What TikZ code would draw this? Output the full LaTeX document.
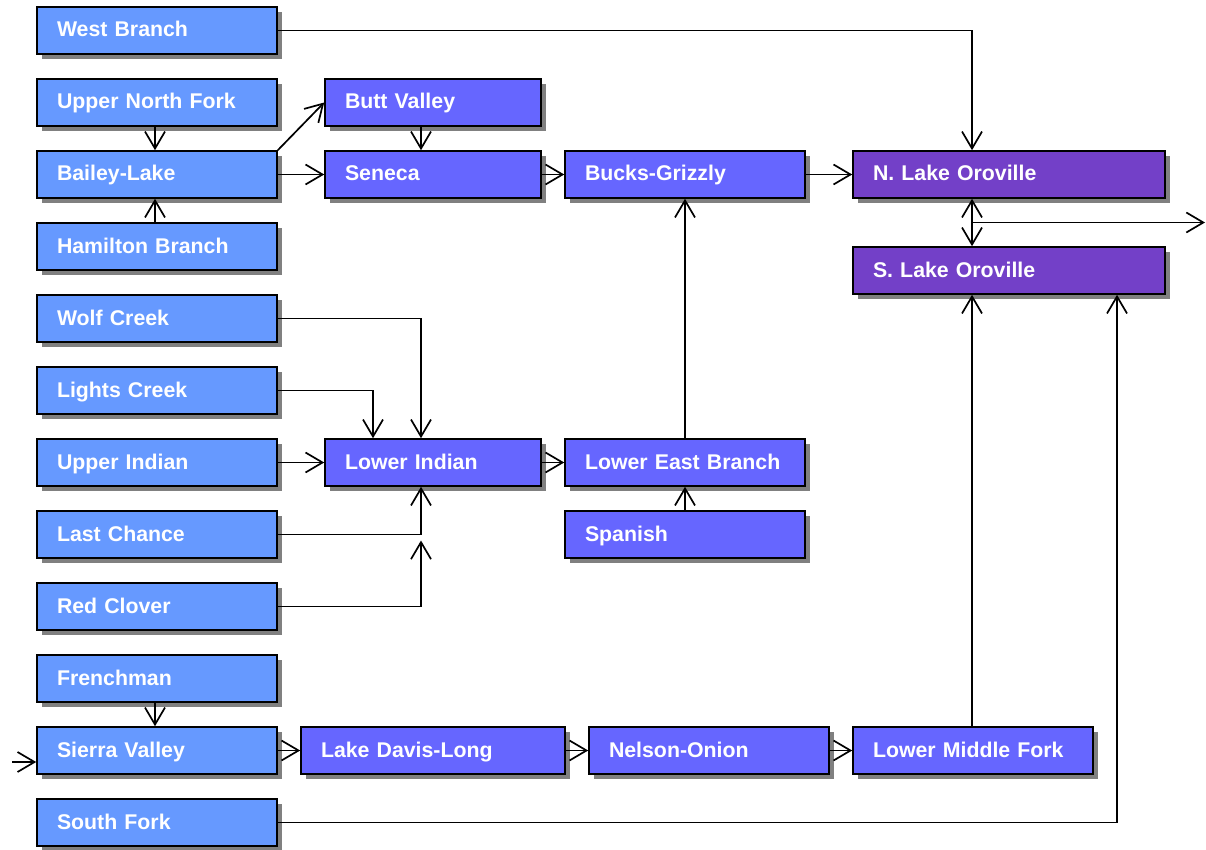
\documentclass[tikz,border=0pt]{standalone}
\usepackage{fontspec}
\setmainfont{Liberation Sans}
\usetikzlibrary{arrows.meta,shadows}

\definecolor{riverblue}{HTML}{6699FF}
\definecolor{reachblue}{HTML}{6666FF}
\definecolor{lakepurple}{HTML}{7340C8}

\tikzset{
  reach/.style={draw=black, line width=1.6pt, text=white,
    font=\bfseries\fontsize{21.3}{25}\selectfont, align=left,
    inner xsep=20pt, inner ysep=0pt, minimum height=47pt, text width=200pt,
    text height=17pt, text depth=4pt,
    drop shadow={shadow xshift=5pt, shadow yshift=-5pt, fill=black!50, opacity=1}},
  upper/.style={reach, fill=riverblue},
  lower/.style={reach, fill=reachblue},
  lake/.style={reach, fill=lakepurple, text width=272pt},
  flow/.style={->, line width=1.7pt},
}

\begin{document}
\begin{tikzpicture}[x=1pt, y=-1pt, >={Straight Barb[length=17pt,width=20pt]}]

	\useasboundingbox (0,0) rectangle (1206,850);

	% upstream reaches
	\node[upper] (WB) at (157,30.5) {West Branch};
	\node[upper] (UNF) at (157,102.5) {Upper North Fork};
	\node[upper] (BL) at (157,174.5) {Bailey-Lake};
	\node[upper] (HB) at (157,246.5) {Hamilton Branch};
	\node[upper] (WC) at (157,318.5) {Wolf Creek};
	\node[upper] (LC) at (157,390.5) {Lights Creek};
	\node[upper] (UI) at (157,462.5) {Upper Indian};
	\node[upper] (LCh) at (157,534.5) {Last Chance};
	\node[upper] (RC) at (157,606.5) {Red Clover};
	\node[upper] (FR) at (157,678.5) {Frenchman};
	\node[upper] (SV) at (157,750.5) {Sierra Valley};
	\node[upper] (SF) at (157,822.5) {South Fork};

	% middle reaches
	\node[lower, text width=176pt] (BV) at (433,102.5) {Butt Valley};
	\node[lower, text width=176pt] (SE) at (433,174.5) {Seneca};
	\node[lower, text width=176pt] (LI) at (433,462.5) {Lower Indian};
	\node[lower, text width=224pt] (LDL) at (433,750.5) {Lake Davis-Long};
	\node[lower] (BG) at (685,174.5) {Bucks-Grizzly};
	\node[lower] (LEB) at (685,462.5) {Lower East Branch};
	\node[lower] (SP) at (685,534.5) {Spanish};
	\node[lower] (NO) at (709,750.5) {Nelson-Onion};
	\node[lower] (LMF) at (973,750.5) {Lower Middle Fork};

	% lake
	\node[lake] (NLO) at (1009,174.5) {N. Lake Oroville};
	\node[lake] (SLO) at (1009,270.5) {S. Lake Oroville};

	\coordinate (J1) at (421,534.5);
	\coordinate (J2) at (373,390.5);
	\coordinate (J3) at (972,222.5);
	\coordinate (J4) at (1117,822.5);
	\coordinate (IN) at (12,762);
	\coordinate (OUT) at (1205,222.5);

	\draw[flow] (WB.east) -| (J3 |- NLO.north);
	\draw[flow] (UNF.south -| 155,0) -- (BL.north -| 155,0);
	\draw[flow] (HB.north -| 155,0) -- (BL.south -| 155,0);
	\draw[flow] (BL.north east) -- (BV.west);
	\draw[flow] (BL.east) -- (SE.west);
	\draw[flow] (BV.south -| J1) -- (SE.north -| J1);
	\draw[flow] (SE.east) -- (BG.west);
	\draw[flow] (BG.east) -- (NLO.west);

	\draw[<->, line width=1.7pt] (J3 |- NLO.south) -- (J3 |- SLO.north);
	\draw[flow] (J3) -- (OUT);

	\draw[flow] (WC.east) -| (LI.north -| J1);
	\draw[flow] (LC.east) -| (LI.north -| J2);
	\draw[flow] (UI.east) -- (LI.west);
	\draw[flow] (LCh.east) -| (LI.south -| J1);
	\draw[flow, shorten >=6pt] (RC.east) -| (J1);
	\draw[flow] (LI.east) -- (LEB.west);
	\draw[flow] (LEB.north) -- (BG.south);
	\draw[flow] (SP.north) -- (LEB.south);

	\draw[flow] (FR.south -| 155,0) -- (SV.north -| 155,0);
	\draw[flow] (IN) -- (SV.west |- IN);
	\draw[flow] (SV.east) -- (LDL.west);
	\draw[flow] (LDL.east) -- (NO.west);
	\draw[flow] (NO.east) -- (LMF.west);
	\draw[flow] (LMF.north -| J3) -- (SLO.south -| J3);
	\draw[flow] (SF.east) -- (J4) -- (SLO.south -| J4);

\end{tikzpicture}
\end{document}
